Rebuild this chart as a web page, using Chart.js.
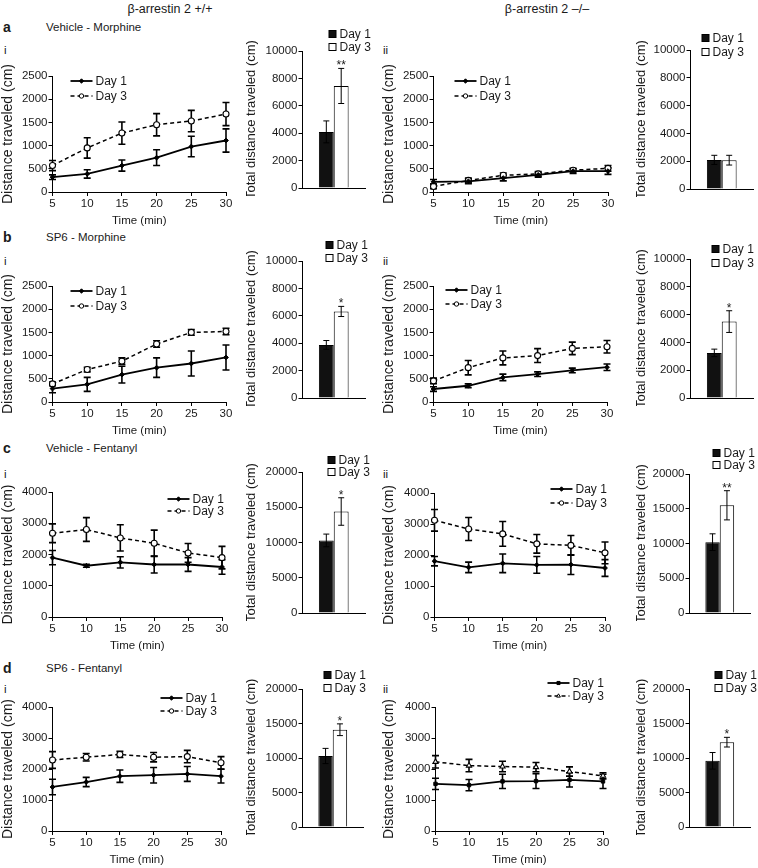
<!DOCTYPE html>
<html><head><meta charset="utf-8">
<script src="https://cdn.jsdelivr.net/npm/chart.js@4.4.1/dist/chart.umd.min.js"></script>
<style>
html,body{margin:0;padding:0;background:#fff}
body{width:758px;height:868px;position:relative;overflow:hidden;font-family:"Liberation Sans",Arial,sans-serif;color:#1a1a1a;-webkit-font-smoothing:antialiased}
.t{position:absolute;white-space:nowrap;line-height:1;transform:translateY(-50%)}
.c{transform:translate(-50%,-50%)}
canvas{position:absolute}
</style></head><body>
<script>
// ---------- DATA ----------
const timeLabels = ['5','10','15','20','25','30'];
const seriesNames = ['Day 1','Day 3'];

// a: Vehicle - Morphine
const a1Day1 = [320, 390, 570, 740, 980, 1110];
const a1Day1Err = [50, 90, 120, 170, 220, 250];
const a1Day3 = [570, 950, 1270, 1450, 1530, 1680];
const a1Day3Err = [110, 220, 240, 240, 230, 250];
const a1Total = [4100, 7450];
const a1TotalErr = [800, 1280];
const a2Day1 = [220, 230, 300, 370, 450, 450];
const a2Day1Err = [50, 50, 60, 50, 50, 70];
const a2Day3 = [120, 250, 360, 390, 470, 510];
const a2Day3Err = [50, 50, 50, 50, 40, 60];
const a2Total = [2100, 2080];
const a2TotalErr = [330, 350];

// b: SP6 - Morphine
const b1Day1 = [290, 380, 590, 740, 830, 960];
const b1Day1Err = [90, 150, 180, 210, 270, 270];
const b1Day3 = [390, 700, 880, 1250, 1500, 1520];
const b1Day3Err = [40, 50, 70, 70, 60, 70];
const b1Total = [3880, 6320];
const b1TotalErr = [320, 370];
const b2Day1 = [280, 350, 530, 600, 680, 750];
const b2Day1Err = [50, 40, 70, 50, 50, 70];
const b2Day3 = [455, 740, 950, 1000, 1155, 1190];
const b2Day3Err = [60, 155, 150, 150, 135, 135];
const b2Total = [3250, 5500];
const b2TotalErr = [270, 780];

// c: Vehicle - Fentanyl
const c1Day1 = [1900, 1640, 1750, 1680, 1680, 1600];
const c1Day1Err = [230, 50, 180, 270, 220, 230];
const c1Day3 = [2680, 2800, 2530, 2360, 2050, 1900];
const c1Day3Err = [300, 380, 420, 420, 300, 360];
const c1Total = [10300, 14400];
const c1TotalErr = [900, 1950];
const c2Day1 = [1800, 1600, 1730, 1680, 1690, 1580];
const c2Day1Err = [150, 170, 300, 270, 320, 270];
const c2Day3 = [3120, 2840, 2680, 2360, 2310, 2070];
const c2Day3Err = [350, 370, 400, 300, 320, 350];
const c2Total = [10200, 15500];
const c2TotalErr = [1200, 2100];

// d: SP6 - Fentanyl
const d1Day1 = [1420, 1580, 1770, 1800, 1840, 1770];
const d1Day1Err = [250, 150, 200, 250, 240, 220];
const d1Day3 = [2290, 2380, 2470, 2380, 2400, 2200];
const d1Day3Err = [270, 120, 100, 150, 200, 200];
const d1Total = [10300, 14100];
const d1TotalErr = [1100, 850];
const d2Day1 = [1520, 1480, 1600, 1610, 1650, 1600];
const d2Day1Err = [180, 180, 230, 240, 230, 230];
const d2Day3 = [2230, 2110, 2080, 2060, 1920, 1780];
const d2Day3Err = [200, 200, 170, 150, 150, 100];
const d2Total = [9600, 12300];
const d2TotalErr = [1200, 700];

const lineTitleY = 'Distance traveled (cm)';
const lineTitleX = 'Time (min)';
const barTitleY = 'Total distance traveled (cm)';

// ---------- STYLE ----------
const FONT = '"Liberation Sans", Arial, sans-serif';
const TXT = '#1a1a1a';
const tickFont = {family: FONT, size: 11.5};
const legendFont = '12px ' + FONT;

// ---------- PLUGINS ----------
function drawErrors(chart, opts) {
  const ctx = chart.ctx, ys = chart.scales.y;
  chart.data.datasets.forEach((ds, di) => {
    if (!ds.errors) return;
    const meta = chart.getDatasetMeta(di);
    ctx.save();
    ctx.strokeStyle = '#000';
    ctx.lineWidth = opts.width;
    ctx.setLineDash([]);
    meta.data.forEach((el, i) => {
      const v = ds.data[i], e = ds.errors[i];
      const x = el.x, yt = ys.getPixelForValue(v + e), yb = ys.getPixelForValue(v - e);
      const c = opts.cap;
      ctx.beginPath();
      ctx.moveTo(x, yt); ctx.lineTo(x, yb);
      ctx.moveTo(x - c, yt); ctx.lineTo(x + c, yt);
      ctx.moveTo(x - c, yb); ctx.lineTo(x + c, yb);
      ctx.stroke();
    });
    ctx.restore();
  });
}
const errorBars = {
  id: 'errorBars',
  beforeDatasetsDraw(chart, args, opts) { if (opts.layer === 'before') drawErrors(chart, opts); },
  afterDatasetsDraw(chart, args, opts) {
    if (opts.layer === 'after') drawErrors(chart, opts);
    if (opts.stars) {
      const ds = chart.data.datasets[1], meta = chart.getDatasetMeta(1);
      const ctx = chart.ctx;
      const y = chart.scales.y.getPixelForValue(ds.data[0] + ds.errors[0]);
      ctx.save();
      ctx.fillStyle = TXT; ctx.font = '12px ' + FONT;
      ctx.textAlign = 'center'; ctx.textBaseline = 'alphabetic';
      ctx.fillText(opts.stars, meta.data[0].x, y + 1);
      ctx.restore();
    }
  }
};
const miniLegend = {
  id: 'miniLegend',
  afterDraw(chart, args, o) {
    if (!o.pos) return;
    const ctx = chart.ctx;
    const ox = chart.canvas._ox, oy = chart.canvas._oy;
    chart.data.datasets.forEach((ds, i) => {
      const x = o.pos.x - ox, y = (i === 0 ? o.pos.y1 : o.pos.y2) - oy;
      ctx.save();
      ctx.font = legendFont; ctx.fillStyle = TXT; ctx.textBaseline = 'middle';
      if (o.kind === 'line') {
        ctx.strokeStyle = '#000'; ctx.lineWidth = ds.borderWidth;
        ctx.setLineDash(ds.borderDash || []);
        ctx.beginPath(); ctx.moveTo(x, y); ctx.lineTo(x + 22, y); ctx.stroke();
        ctx.setLineDash([]);
        ctx.fillStyle = ds.pointBackgroundColor; ctx.strokeStyle = '#000'; ctx.lineWidth = 1;
        Chart.helpers.drawPoint(ctx, {pointStyle: ds.pointStyle, radius: 2.2, borderWidth: 1, rotation: 0}, x + 11, y);
        ctx.fillStyle = TXT;
        ctx.fillText(ds.label, x + 25, y + 0.5);
      } else {
        ctx.fillStyle = ds.backgroundColor; ctx.strokeStyle = '#000'; ctx.lineWidth = 1;
        ctx.fillRect(x + 0.5, y - 3.5, 7, 7); ctx.strokeRect(x + 0.5, y - 3.5, 7, 7);
        ctx.fillStyle = TXT;
        ctx.fillText(ds.label, x + 11, y + 0.5);
      }
      ctx.restore();
    });
  }
};

// ---------- HELPERS ----------
function makeCanvas(left, top, w, h) {
  const cv = document.createElement('canvas');
  cv.width = w; cv.height = h;
  cv.style.left = left + 'px'; cv.style.top = top + 'px';
  cv.style.width = w + 'px'; cv.style.height = h + 'px';
  cv._ox = left; cv._oy = top;
  document.body.appendChild(cv);
  return cv;
}
function addText(txt, x, y, size, extra) {
  const d = document.createElement('div');
  d.className = 't' + (extra && extra.center ? ' c' : '');
  d.textContent = txt;
  d.style.left = x + 'px'; d.style.top = y + 'px'; d.style.fontSize = size + 'px';
  if (extra && extra.bold) d.style.fontWeight = 'bold';
  if (extra && extra.family) d.style.fontFamily = extra.family;
  document.body.appendChild(d);
}
const axisGrid = {display: true, drawOnChartArea: false, drawTicks: true, tickLength: 4, color: '#000', lineWidth: 1};
const axisBorder = {display: true, color: '#000', width: 1};

function lineChart(s) {
  const yW = s.L - (s.titleC - 7);
  const left = s.L - yW, padTop = 45, padRight = 22, xH = 36, padBottom = 2;
  const top = s.T - padTop;
  const cv = makeCanvas(left, top, s.R + padRight - left, s.B + xH + padBottom - top);
  new Chart(cv, {
    type: 'line',
    data: {labels: timeLabels, datasets: [
      {label: seriesNames[0], data: s.d1, errors: s.e1, borderColor: '#000', borderWidth: 1.8,
       pointStyle: s.p1 || 'rectRot', pointRadius: 2.4, pointBackgroundColor: '#000', pointBorderColor: '#000', pointBorderWidth: 1, tension: 0},
      {label: seriesNames[1], data: s.d3, errors: s.e3, borderColor: '#000', borderWidth: 1.5, borderDash: [4, 3],
       pointStyle: s.p3 || 'circle', pointRadius: 3, pointBackgroundColor: '#fff', pointBorderColor: '#000', pointBorderWidth: 1.1, tension: 0}
    ]},
    options: {
      responsive: false, animation: false, events: [], devicePixelRatio: 1,
      layout: {padding: {top: padTop, right: padRight, bottom: padBottom, left: 0}},
      plugins: {legend: {display: false}, tooltip: {enabled: false},
        errorBars: {cap: 3.5, width: 1.6, layer: 'before'},
        miniLegend: {kind: 'line', pos: s.legend}},
      scales: {
        x: {type: 'category', offset: false, grid: axisGrid, border: axisBorder,
            ticks: {font: tickFont, color: TXT, padding: 1, maxRotation: 0, autoSkip: false},
            title: {display: true, text: lineTitleX, font: {family: FONT, size: 11.5, lineHeight: 1.2}, color: TXT, padding: 0},
            afterFit: sc => { sc.height = xH; }},
        y: {min: 0, max: s.max, grid: axisGrid, border: axisBorder,
            ticks: {stepSize: s.step, font: tickFont, color: TXT, padding: 1, callback: v => String(v)},
            title: {display: true, text: lineTitleY, font: {family: FONT, size: 14, lineHeight: 1}, color: TXT, padding: 0},
            afterFit: sc => { sc.width = yW; }}
      }
    },
    plugins: [errorBars, miniLegend]
  });
}

function barChart(s) {
  const yW = s.L - (s.titleC - 6.5);
  const left = s.L - yW, padTop = 45, padRight = 18, padBottom = 4;
  const top = s.T - padTop;
  const cv = makeCanvas(left, top, s.R + padRight - left, s.B + padBottom - top);
  new Chart(cv, {
    type: 'bar',
    data: {labels: [''], datasets: [
      {label: seriesNames[0], data: [s.tot[0]], errors: [s.err[0]], backgroundColor: '#111', borderColor: '#000', borderWidth: 1,
       categoryPercentage: 0.476, barPercentage: 1},
      {label: seriesNames[1], data: [s.tot[1]], errors: [s.err[1]], backgroundColor: '#fff', borderColor: '#000', borderWidth: 1,
       categoryPercentage: 0.476, barPercentage: 1}
    ]},
    options: {
      responsive: false, animation: false, events: [], devicePixelRatio: 1,
      layout: {padding: {top: padTop, right: padRight, bottom: padBottom, left: 0}},
      plugins: {legend: {display: false}, tooltip: {enabled: false},
        errorBars: {cap: 3, width: 1, layer: 'after', stars: s.stars},
        miniLegend: {kind: 'bar', pos: s.legend}},
      scales: {
        x: {type: 'category', offset: true, grid: {display: false}, border: axisBorder,
            ticks: {display: false}, afterFit: sc => { sc.height = 0; }},
        y: {min: 0, max: s.max, grid: axisGrid, border: axisBorder,
            ticks: {stepSize: s.step, font: tickFont, color: TXT, padding: 1, callback: v => String(v)},
            title: {display: true, text: barTitleY, font: {family: FONT, size: 13, lineHeight: 1}, color: TXT, padding: 0},
            afterFit: sc => { sc.width = yW; }}
      }
    },
    plugins: [errorBars, miniLegend]
  });
}

// ---------- TEXT ----------
addText('β-arrestin 2 +/+', 170, 9, 12.5, {center: true});
addText('β-arrestin 2 –/–', 547, 9, 12.5, {center: true});
[['a', 'Vehicle - Morphine', 27, 51], ['b', 'SP6 - Morphine', 237, 262],
 ['c', 'Vehicle - Fentanyl', 448, 475], ['d', 'SP6 - Fentanyl', 668, 690]].forEach(r => {
  addText(r[0], 3, r[2], 14, {bold: true});
  addText(r[1], 46, r[2] + 1, 11.5);
  addText('i', 4, r[3], 11.5);
  addText('ii', 383, r[3], 11.5);
});

// ---------- CHARTS ----------
lineChart({L: 52, R: 226, T: 76, B: 192, titleC: 7.5, max: 2500, step: 500,
  d1: a1Day1, e1: a1Day1Err, d3: a1Day3, e3: a1Day3Err, legend: {x: 70, y1: 81, y2: 96}});
lineChart({L: 433, R: 608, T: 76, B: 192, titleC: 388.5, max: 2500, step: 500,
  d1: a2Day1, e1: a2Day1Err, d3: a2Day3, e3: a2Day3Err, legend: {x: 454, y1: 81, y2: 96}});
barChart({L: 302, R: 365, T: 51, B: 192, titleC: 251, max: 10000, step: 2000,
  tot: a1Total, err: a1TotalErr, stars: '**', legend: {x: 328, y1: 34, y2: 47}});
barChart({L: 690, R: 753, T: 50, B: 193, titleC: 641, max: 10000, step: 2000,
  tot: a2Total, err: a2TotalErr, stars: '', legend: {x: 701, y1: 38, y2: 52}});

lineChart({L: 52, R: 226, T: 286, B: 402, titleC: 7.5, max: 2500, step: 500,
  d1: b1Day1, e1: b1Day1Err, d3: b1Day3, e3: b1Day3Err, legend: {x: 70, y1: 291, y2: 306}});
lineChart({L: 433, R: 607, T: 286, B: 402, titleC: 388.5, max: 2500, step: 500,
  d1: b2Day1, e1: b2Day1Err, d3: b2Day3, e3: b2Day3Err, legend: {x: 445, y1: 290, y2: 304}});
barChart({L: 302, R: 365, T: 261, B: 402, titleC: 251, max: 10000, step: 2000,
  tot: b1Total, err: b1TotalErr, stars: '*', legend: {x: 325, y1: 245, y2: 258}});
barChart({L: 690, R: 753, T: 259, B: 402, titleC: 641, max: 10000, step: 2000,
  tot: b2Total, err: b2TotalErr, stars: '*', legend: {x: 711, y1: 249, y2: 263}});

lineChart({L: 52, R: 222, T: 492, B: 617, titleC: 7.5, max: 4000, step: 1000,
  d1: c1Day1, e1: c1Day1Err, d3: c1Day3, e3: c1Day3Err, legend: {x: 167, y1: 499, y2: 511}});
lineChart({L: 434, R: 605, T: 493, B: 617, titleC: 388.5, max: 4000, step: 1000,
  d1: c2Day1, e1: c2Day1Err, d3: c2Day3, e3: c2Day3Err, legend: {x: 550, y1: 489, y2: 503}});
barChart({L: 302, R: 365, T: 472, B: 617, titleC: 251, max: 20000, step: 5000,
  tot: c1Total, err: c1TotalErr, stars: '*', legend: {x: 327, y1: 460, y2: 472}});
barChart({L: 689, R: 750, T: 474, B: 617, titleC: 641, max: 20000, step: 5000,
  tot: c2Total, err: c2TotalErr, stars: '**', legend: {x: 712, y1: 453, y2: 465}});

lineChart({L: 52, R: 221, T: 707, B: 831, titleC: 7.5, max: 4000, step: 1000,
  d1: d1Day1, e1: d1Day1Err, d3: d1Day3, e3: d1Day3Err, legend: {x: 160, y1: 698, y2: 711}});
lineChart({L: 435, R: 603, T: 707, B: 831, titleC: 388.5, max: 4000, step: 1000, p1: 'rect', p3: 'triangle',
  d1: d2Day1, e1: d2Day1Err, d3: d2Day3, e3: d2Day3Err, legend: {x: 547, y1: 683, y2: 696}});
barChart({L: 302, R: 363, T: 689, B: 831, titleC: 251, max: 20000, step: 5000,
  tot: d1Total, err: d1TotalErr, stars: '*', legend: {x: 323, y1: 675, y2: 688}});
barChart({L: 689, R: 750, T: 689, B: 831, titleC: 641, max: 20000, step: 5000,
  tot: d2Total, err: d2TotalErr, stars: '*', legend: {x: 714, y1: 675, y2: 688}});
</script>
</body></html>
